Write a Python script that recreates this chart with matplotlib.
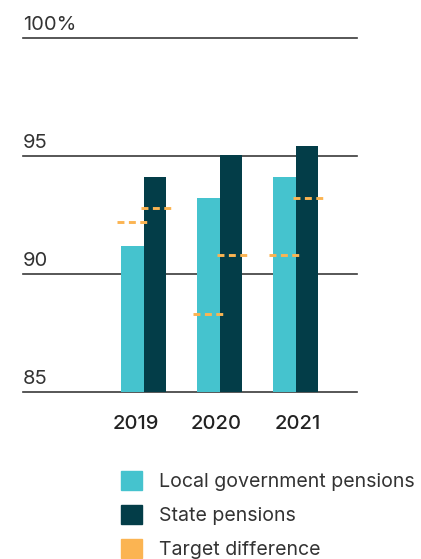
import matplotlib
matplotlib.use("Agg")
import matplotlib.pyplot as plt
from matplotlib.patches import Patch
from matplotlib.transforms import ScaledTranslation
import numpy as np

plt.rcParams["font.family"] = ["Inter", "DejaVu Sans"]
plt.rcParams["lines.scale_dashes"] = False

years = ["2019", "2020", "2021"]
local_gov = [91.2, 93.2, 94.1]
state = [94.1, 95.05, 95.4]
local_target = [92.2, 88.3, 90.8]
state_target = [92.8, 90.8, 93.2]
y_ticks = [85, 90, 95, 100]
y_tick_labels = ["85", "90", "95", "100%"]

LOCAL_C = "#45c3ce"
STATE_C = "#033d48"
TARGET_C = "#fbb452"
TEXT_C = "#333333"
FS = 14.5
LEG_FS = 14.1

W, H = 421, 559
fig = plt.figure(figsize=(W / 100, H / 100), dpi=100)
# axes box in pixel terms: x 23..357, y (from top) 38..391.7
ax = fig.add_axes([23 / W, (H - 391.7) / H, (357 - 23) / W, (391.7 - 38) / H])
ax.set_ylim(85, 100)
ax.set_xlim(-1.592, 2.803)

x = np.arange(len(years))
bw = 0.296
ax.bar(x - bw / 2, [v - 85 for v in local_gov], bw, bottom=85, color=LOCAL_C, zorder=2)
ax.bar(x + bw / 2, [v - 85 for v in state], bw, bottom=85, color=STATE_C, zorder=2)

half = 0.2
for xi, lt, st in zip(x, local_target, state_target):
    for cx, val in ((xi - bw / 2 - 0.01, lt), (xi + bw / 2 + 0.01, st)):
        ax.plot([cx - half, cx + half], [val, val], color=TARGET_C, lw=2.1,
                dashes=(5.0, 3.2), solid_capstyle="butt", dash_capstyle="butt", zorder=3)

for t, lab in zip(y_ticks, y_tick_labels):
    ax.axhline(t, color="#3a3a3a", lw=1.2, zorder=1, clip_on=False)
    ax.annotate(lab, xy=(0, t), xycoords=("axes fraction", "data"),
                xytext=(0, 8), textcoords="offset pixels",
                ha="left", va="baseline", fontsize=FS, color=TEXT_C)

for s in ax.spines.values():
    s.set_visible(False)
ax.set_yticks([])
ax.set_xticks(x)
ax.set_xticklabels(years, fontsize=FS, fontweight="medium", color="#222222")
ax.tick_params(axis="x", length=0, pad=17)
# nudge year labels slightly toward the local-government bar
offsets = [-8, -4, 1.5]
for lbl, dx in zip(ax.get_xticklabels(), offsets):
    lbl.set_transform(lbl.get_transform() + ScaledTranslation(dx / 100, 0, fig.dpi_scale_trans))

handles = [Patch(color=LOCAL_C), Patch(color=STATE_C), Patch(color=TARGET_C)]
labels = ["Local government pensions", "State pensions", "Target difference"]
fig.legend(handles, labels, loc="upper left", bbox_to_anchor=(121 / W, (H - 471) / H),
           frameon=False, fontsize=LEG_FS, handlelength=1.08, handleheight=1.08,
           handletextpad=0.85, labelspacing=0.72, borderaxespad=0, borderpad=0,
           labelcolor=TEXT_C)

fig.savefig("out.png", dpi=100)
